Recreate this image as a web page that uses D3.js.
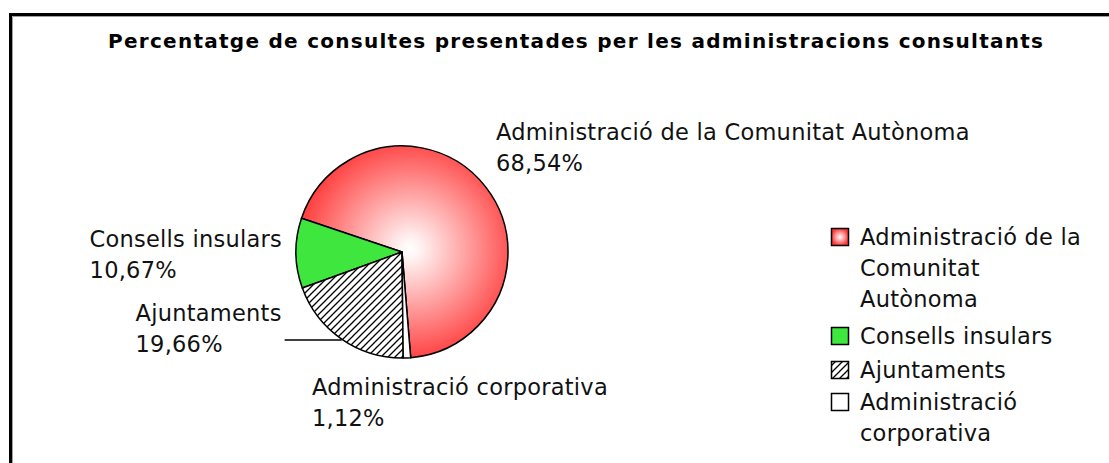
<!DOCTYPE html>
<html>
<head>
<meta charset="utf-8">
<script src="https://cdn.jsdelivr.net/npm/d3@7"></script>
<style>
  html, body { margin: 0; padding: 0; background: #fff; }
  svg { display: block; }
</style>
</head>
<body>
<svg id="chart" width="1109" height="463"></svg>
<script>
// dades del gràfic
const TITLE = "Percentatge de consultes presentades per les administracions consultants";
const CATEGORIES = ["Administració de la Comunitat Autònoma", "Consells insulars", "Ajuntaments", "Administració corporativa"];
const VALUES = [68.54, 10.67, 19.66, 1.12];
const VALUE_LABELS = ["68,54%", "10,67%", "19,66%", "1,12%"];
const LEGEND_LINES = [["Administració de la", "Comunitat", "Autònoma"], ["Consells insulars"], ["Ajuntaments"], ["Administració", "corporativa"]];

const SVG = d3.select("#chart");
const CX = 402, CY = 252, R = 106;
const FONT = "DejaVu Sans";
const FONT_SIZE = 22.5;
const LETTER_SP = 0.25;
const LINE_H = 31;
const START = 175.3 * Math.PI / 180; // el pastís va en sentit antihorari

let defs = SVG.append("defs");

// degradat radial de la porció vermella (coordenades del grup del pastís)
let grad = defs.append("radialGradient")
    .attr("id", "redGrad")
    .attr("gradientUnits", "userSpaceOnUse")
    .attr("cx", 8).attr("cy", -3).attr("r", R * 1.08);
grad.append("stop").attr("offset", 0).attr("stop-color", "#ffffff");
grad.append("stop").attr("offset", 0.08).attr("stop-color", "#fff4f4");
grad.append("stop").attr("offset", 1).attr("stop-color", "#ff3a3a");

let gradL = defs.append("radialGradient").attr("id", "redGradL");
gradL.append("stop").attr("offset", 0).attr("stop-color", "#ffffff");
gradL.append("stop").attr("offset", 1).attr("stop-color", "#ff3a3a");

// ratllat diagonal
let pat = defs.append("pattern")
    .attr("id", "hatch")
    .attr("patternUnits", "userSpaceOnUse")
    .attr("width", 7).attr("height", 7);
pat.append("rect").attr("width", 7).attr("height", 7).attr("fill", "#fff");
pat.append("path").attr("d", "M-1,8 L8,-1 M-2,2 L2,-2 M5,9 L9,5")
    .attr("stroke", "#000").attr("stroke-width", 1.3);

const FILLS = ["url(#redGrad)", "#3ee63e", "url(#hatch)", "#ffffff"];
const FILLS_LEGEND = ["url(#redGradL)", "#3ee63e", "url(#hatch)", "#ffffff"];

// marc
SVG.append("path")
    .attr("d", "M10.5,1200 L10.5,14.5 L1200,14.5")
    .attr("fill", "none").attr("stroke", "#000").attr("stroke-width", 3);
SVG.append("path")
    .attr("d", "M12.5,1200 L12.5,16.5 L1200,16.5")
    .attr("fill", "none").attr("stroke", "#a0a0a0").attr("stroke-width", 1);

// títol
SVG.append("text")
    .text(TITLE)
    .attr("x", 575.5).attr("y", 48)
    .attr("text-anchor", "middle")
    .attr("font-family", "DejaVu Sans")
    .attr("font-weight", "bold")
    .attr("font-size", 20)
    .attr("textLength", 935)
    .attr("lengthAdjust", "spacing");

// pastís
const pie = d3.pie().sort(null).startAngle(START).endAngle(START - 2 * Math.PI);
const arcs = pie(VALUES);
const arc = d3.arc().innerRadius(0).outerRadius(R);
let g = SVG.append("g").attr("transform", `translate(${CX},${CY})`);
g.selectAll("path.slice")
    .data(arcs)
    .enter().append("path")
    .attr("class", "slice")
    .attr("d", arc)
    .attr("fill", (d, i) => FILLS[i])
    .attr("stroke", "#000")
    .attr("stroke-width", 1.5)
    .attr("stroke-linejoin", "round");

// etiquetes de dades
function edge_point(d) {
    let a = (d.startAngle + d.endAngle) / 2;
    return [CX + R * Math.sin(a), CY - R * Math.cos(a)];
}

function draw_label(lines, x, y) {
    let t = SVG.append("text")
        .attr("font-family", FONT)
        .attr("font-size", FONT_SIZE)
        .attr("letter-spacing", LETTER_SP)
        .attr("fill", "#111");
    lines.forEach((s, k) => {
        t.append("tspan").text(s).attr("x", x).attr("y", y + k * LINE_H);
    });
    return t;
}

function text_width(lines) {
    let tmp = SVG.append("text").attr("font-family", FONT).attr("font-size", FONT_SIZE)
        .attr("letter-spacing", LETTER_SP);
    let w = 0;
    for (let s of lines) { tmp.text(s); w = Math.max(w, tmp.node().getComputedTextLength()); }
    tmp.remove();
    return w;
}

arcs.forEach((d, i) => {
    let [ex, ey] = edge_point(d);
    let lines = [CATEGORIES[i], VALUE_LABELS[i]];
    if (i === 0) {
        draw_label(lines, ex + 10.5, ey - 46.5);
    } else if (i === 1) {
        draw_label(lines, ex - 14 - text_width(lines), ey - 6);
    } else if (i === 2) {
        let lx = ex - 57;
        SVG.append("line")
            .attr("x1", lx).attr("x2", ex)
            .attr("y1", ey + 1).attr("y2", ey + 1)
            .attr("stroke", "#000").attr("stroke-width", 1.5);
        draw_label(lines, lx - 3 - text_width(lines), ey - 18);
    } else {
        draw_label(lines, ex - 95, ey + 37);
    }
});

// llegenda
const LEG_X = 831, LEG_TEXT_X = 860, LEG_SQ = 17;
const LEG_Y = [245, 344, 378, 410];
LEGEND_LINES.forEach((lines, i) => {
    SVG.append("rect")
        .attr("x", LEG_X + 0.5).attr("y", LEG_Y[i] - 16.5)
        .attr("width", LEG_SQ).attr("height", LEG_SQ)
        .attr("fill", FILLS_LEGEND[i])
        .attr("stroke", "#000").attr("stroke-width", 1.5);
    draw_label(lines, LEG_TEXT_X, LEG_Y[i]);
});
</script>
</body>
</html>
